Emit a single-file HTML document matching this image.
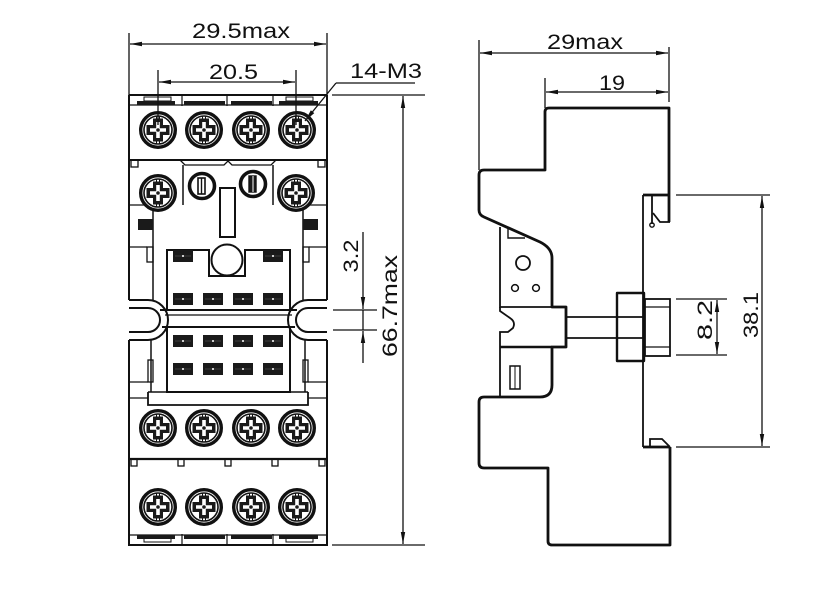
<!DOCTYPE html>
<html><head><meta charset="utf-8"><style>
html,body{margin:0;padding:0;background:#fff;}
svg{display:block;}
text{font-family:"Liberation Sans",Arial,sans-serif;font-size:21px;fill:#111;}
</style></head><body>
<svg width="838" height="589" viewBox="0 0 838 589" xmlns="http://www.w3.org/2000/svg">
<defs>
<marker id="ar" viewBox="0 0 12 6" refX="12" refY="3" markerWidth="12" markerHeight="6" orient="auto-start-reverse" markerUnits="userSpaceOnUse"><path d="M0,0.8 L12,3 L0,5.2 z" fill="#111"/></marker>
<g id="s">
<circle r="17.3" fill="#fff" stroke="#111" stroke-width="3.4"/>
<circle r="14" fill="none" stroke="#111" stroke-width="1.6"/>
<path d="M-5,-11.5 H5 V-5 H11.5 V5 H5 V11.5 H-5 V5 H-11.5 V-5 H-5 Z" fill="#1a1a1a"/>
<path d="M-1.8,-8 H1.8 V-1.8 H8 V1.8 H1.8 V8 H-1.8 V1.8 H-8 V-1.8 H-1.8 Z" fill="#fff"/>
<circle r="1.8" fill="#1a1a1a"/>
<line x1="-1.5" y1="-14" x2="-1.5" y2="-11" stroke="#111" stroke-width="1"/>
<line x1="1.5" y1="-14" x2="1.5" y2="-11" stroke="#111" stroke-width="1"/>
<line x1="-1.5" y1="14" x2="-1.5" y2="11" stroke="#111" stroke-width="1"/>
<line x1="1.5" y1="14" x2="1.5" y2="11" stroke="#111" stroke-width="1"/>
</g>
<g id="p"><rect width="20" height="12" fill="#1a1a1a"/><rect x="9" y="5" width="2" height="2" fill="#fff"/><line x1="2" y1="6" x2="18" y2="6" stroke="#555" stroke-width="0.6"/></g>
</defs>

<!-- ============ FRONT VIEW ============ -->
<g fill="none" stroke="#111" stroke-width="2">
<line x1="129" y1="95" x2="129" y2="300"/>
<line x1="129" y1="340" x2="129" y2="546"/>
<line x1="327" y1="95" x2="327" y2="300"/>
<line x1="327" y1="340" x2="327" y2="546"/>
<line x1="129" y1="95" x2="327" y2="95"/>
<line x1="129" y1="545" x2="327" y2="545"/>
<line x1="129" y1="105" x2="327" y2="105" stroke-width="1.2"/>
<line x1="182" y1="95" x2="182" y2="106" stroke-width="1.2"/>
<line x1="227" y1="95" x2="227" y2="106" stroke-width="1.2"/>
<line x1="273" y1="95" x2="273" y2="106" stroke-width="1.2"/>
<rect x="144" y="97" width="27" height="4" stroke-width="1"/>
<rect x="286" y="97" width="27" height="4" stroke-width="1"/>
<line x1="129" y1="535" x2="327" y2="535" stroke-width="1.2"/>
<line x1="182" y1="534" x2="182" y2="545" stroke-width="1.2"/>
<line x1="227" y1="534" x2="227" y2="545" stroke-width="1.2"/>
<line x1="273" y1="534" x2="273" y2="545" stroke-width="1.2"/>
<rect x="144" y="538" width="27" height="4" stroke-width="1"/>
<rect x="286" y="538" width="27" height="4" stroke-width="1"/>
</g>
<g fill="#1a1a1a">
<rect x="137" y="101" width="38" height="4"/><rect x="184" y="101" width="41" height="4"/>
<rect x="231" y="101" width="41" height="4"/><rect x="279" y="101" width="39" height="4"/>
<rect x="137" y="535" width="38" height="4"/><rect x="184" y="535" width="41" height="4"/>
<rect x="231" y="535" width="41" height="4"/><rect x="279" y="535" width="39" height="4"/>
</g>

<g fill="none" stroke="#111" stroke-width="2">
<line x1="129" y1="160" x2="327" y2="160"/>
<rect x="131" y="160" width="7" height="7" stroke-width="1.3"/>
<rect x="318" y="160" width="7" height="7" stroke-width="1.3"/>
<path d="M180,160 L185,165 H224 L228,161 L232,165 H271 L276,160" stroke-width="1.3"/>
<line x1="183" y1="165" x2="183" y2="205" stroke-width="1.5"/>
<line x1="273" y1="165" x2="273" y2="205" stroke-width="1.5"/>
<rect x="220" y="188" width="15" height="49" stroke-width="2"/>
<line x1="129" y1="205" x2="153" y2="205" stroke-width="1.3"/>
<line x1="153" y1="205" x2="153" y2="300" stroke-width="1.5"/>
<line x1="129" y1="247" x2="147" y2="247" stroke-width="1.3"/>
<rect x="147" y="247" width="6" height="15" stroke-width="1.3"/>
<line x1="303" y1="205" x2="327" y2="205" stroke-width="1.3"/>
<line x1="303" y1="205" x2="303" y2="300" stroke-width="1.5"/>
<line x1="309" y1="247" x2="327" y2="247" stroke-width="1.3"/>
<rect x="303" y="247" width="6" height="15" stroke-width="1.3"/>
<path d="M167,310 V250 H209 V276 H245 V250 H290 V310"/>
<circle cx="227" cy="260" r="15.5"/>
<line x1="160" y1="310" x2="297" y2="310"/>
<line x1="165" y1="315" x2="292" y2="315" stroke-width="1.2"/>
<line x1="162" y1="327" x2="295" y2="327"/>
<path d="M129,300 H148 A20,20 0 0 1 148,340 H129"/>
<path d="M129,308 H148 A12,12 0 0 1 148,332 H129"/>
<path d="M327,300 H308 A20,20 0 0 0 308,340 H327"/>
<path d="M327,308 H308 A12,12 0 0 0 308,332 H327"/>
<path d="M167,327 V392 H290 V327"/>
<line x1="151" y1="340" x2="151" y2="392" stroke-width="1.5"/>
<line x1="305" y1="340" x2="305" y2="392" stroke-width="1.5"/>
<rect x="148" y="360" width="5" height="22" stroke-width="1.3"/>
<rect x="303" y="360" width="5" height="22" stroke-width="1.3"/>
<line x1="129" y1="382" x2="148" y2="382" stroke-width="1.3"/>
<line x1="308" y1="382" x2="327" y2="382" stroke-width="1.3"/>
<path d="M148,392 V405 H308 V392" stroke-width="1.8"/>
<line x1="148" y1="392" x2="308" y2="392" stroke-width="1.5"/>
<line x1="129" y1="398" x2="148" y2="398" stroke-width="1.3"/>
<line x1="308" y1="398" x2="327" y2="398" stroke-width="1.3"/>
<line x1="129" y1="459" x2="327" y2="459" stroke-width="2.2"/>
<rect x="131" y="459" width="6" height="7" stroke-width="1.3"/>
<rect x="178" y="459" width="6" height="7" stroke-width="1.3"/>
<rect x="225" y="459" width="6" height="7" stroke-width="1.3"/>
<rect x="272" y="459" width="6" height="7" stroke-width="1.3"/>
<rect x="319" y="459" width="6" height="7" stroke-width="1.3"/>
</g>

<use href="#p" x="173" y="250"/><use href="#p" x="263" y="250"/>
<use href="#p" x="173" y="293"/><use href="#p" x="203" y="293"/><use href="#p" x="233" y="293"/><use href="#p" x="263" y="293"/>
<use href="#p" x="173" y="335"/><use href="#p" x="203" y="335"/><use href="#p" x="233" y="335"/><use href="#p" x="263" y="335"/>
<use href="#p" x="173" y="363"/><use href="#p" x="203" y="363"/><use href="#p" x="233" y="363"/><use href="#p" x="263" y="363"/>

<rect x="138" y="219" width="15" height="11" fill="#1a1a1a"/>
<rect x="303" y="219" width="15" height="11" fill="#1a1a1a"/>

<use href="#s" x="158" y="130"/><use href="#s" x="204" y="130"/><use href="#s" x="251" y="130"/><use href="#s" x="297" y="130"/>
<use href="#s" x="158" y="193"/><use href="#s" x="296" y="193"/>
<use href="#s" x="158" y="428"/><use href="#s" x="204" y="428"/><use href="#s" x="251" y="428"/><use href="#s" x="297" y="428"/>
<use href="#s" x="158" y="507"/><use href="#s" x="204" y="507"/><use href="#s" x="251" y="507"/><use href="#s" x="297" y="507"/>

<g stroke="#111" fill="#fff">
<circle cx="202" cy="186" r="12.5" stroke-width="3.6"/>
<rect x="198" y="178" width="7" height="16" stroke-width="1.6"/>
<line x1="201.5" y1="178" x2="201.5" y2="194" stroke-width="1.4"/>
<circle cx="253" cy="184" r="12.5" stroke-width="3.6"/>
<rect x="249" y="176" width="7" height="16" stroke-width="1.4" fill="#1a1a1a"/>
<line x1="253" y1="176" x2="253" y2="192" stroke="#fff" stroke-width="1"/>
</g>

<g fill="none" stroke="#111" stroke-width="1.3">
<line x1="129" y1="33" x2="129" y2="95"/>
<line x1="327" y1="33" x2="327" y2="95"/>
<line x1="130" y1="44" x2="326" y2="44" marker-start="url(#ar)" marker-end="url(#ar)"/>
<line x1="158" y1="70" x2="158" y2="125"/>
<line x1="296" y1="70" x2="296" y2="125"/>
<line x1="159" y1="82" x2="295" y2="82" marker-start="url(#ar)" marker-end="url(#ar)"/>
<line x1="336" y1="83" x2="415" y2="83"/>
<line x1="336" y1="83" x2="305" y2="121" marker-end="url(#ar)"/>
<line x1="332" y1="95" x2="425" y2="95"/>
<line x1="332" y1="545" x2="425" y2="545"/>
<line x1="403" y1="96" x2="403" y2="544" marker-start="url(#ar)" marker-end="url(#ar)"/>
<line x1="333" y1="310" x2="377" y2="310"/>
<line x1="333" y1="330" x2="377" y2="330"/>
<line x1="363" y1="232" x2="363" y2="309" marker-end="url(#ar)"/>
<line x1="363" y1="310" x2="363" y2="330"/>
<line x1="363" y1="363" x2="363" y2="331" marker-end="url(#ar)"/>
</g>
<text x="192" y="38" textLength="98" lengthAdjust="spacingAndGlyphs">29.5max</text>
<text x="209" y="79" textLength="49" lengthAdjust="spacingAndGlyphs">20.5</text>
<text x="350" y="78" textLength="72" lengthAdjust="spacingAndGlyphs">14-M3</text>
<text transform="translate(397,306) rotate(-90)" text-anchor="middle" textLength="102" lengthAdjust="spacingAndGlyphs">66.7max</text>
<text transform="translate(358,256) rotate(-90)" text-anchor="middle" textLength="33" lengthAdjust="spacingAndGlyphs">3.2</text>

<!-- ============ SIDE VIEW ============ -->
<g fill="none" stroke="#111" stroke-width="2.8" stroke-linejoin="round">
<path d="M669,222 V108 H549 Q545,108 545,112 V170 H484 Q479,170 479,175 V210 Q479,215 484,217 L540,242 Q552,248 552,258 V307 H566 V347 H552 V385 Q552,397 540,397 H484 Q479,397 479,402 V463 Q479,468 484,468 H548 V541 Q548,545 552,545 H670 V447"/>
<line x1="643" y1="195" x2="670" y2="195"/>
<line x1="643" y1="447" x2="670" y2="447"/>
<rect x="617" y="293" width="27" height="68" stroke-width="2.4"/>
</g>
<g fill="none" stroke="#111" stroke-width="1.8">
<line x1="643" y1="195" x2="643" y2="447"/>
<line x1="652" y1="195" x2="652" y2="224"/>
<circle cx="652" cy="225" r="2.2" stroke-width="1.4"/>
<path d="M653,213 L660,222 H670"/>
<path d="M650,447 V439 H662 L670,447"/>
<path d="M500,227 V307 H552"/>
<path d="M500,307 V311 L510,318 Q516,322 513,328 L508,332 H500 V397"/>
<line x1="500" y1="347" x2="552" y2="347" stroke-width="2.4"/>
<path d="M508,227 V238 H525" stroke-width="1.4"/>
<circle cx="523" cy="263" r="7"/>
<circle cx="515" cy="288" r="3.4" stroke-width="1.5"/>
<circle cx="536" cy="288" r="3.4" stroke-width="1.5"/>
<rect x="510" y="366" width="10" height="23" stroke-width="1.5"/>
<line x1="515" y1="366" x2="515" y2="389" stroke-width="1"/>
<line x1="566" y1="317" x2="644" y2="317"/>
<line x1="566" y1="338" x2="644" y2="338"/>
<rect x="645" y="299" width="25" height="57"/>
<line x1="645" y1="307" x2="670" y2="307" stroke-width="1.3"/>
<line x1="645" y1="347" x2="670" y2="347" stroke-width="1.3"/>
</g>

<g fill="none" stroke="#111" stroke-width="1.3">
<line x1="479" y1="40" x2="479" y2="170"/>
<line x1="669" y1="47" x2="669" y2="102"/>
<line x1="480" y1="53" x2="668" y2="53" marker-start="url(#ar)" marker-end="url(#ar)"/>
<line x1="545" y1="78" x2="545" y2="108"/>
<line x1="546" y1="92" x2="668" y2="92" marker-start="url(#ar)" marker-end="url(#ar)"/>
<line x1="676" y1="195" x2="770" y2="195"/>
<line x1="676" y1="447" x2="770" y2="447"/>
<line x1="762" y1="196" x2="762" y2="446" marker-start="url(#ar)" marker-end="url(#ar)"/>
<line x1="676" y1="299" x2="727" y2="299"/>
<line x1="676" y1="355" x2="727" y2="355"/>
<line x1="717" y1="300" x2="717" y2="354" marker-start="url(#ar)" marker-end="url(#ar)"/>
</g>
<text x="547" y="49" textLength="76" lengthAdjust="spacingAndGlyphs">29max</text>
<text x="599" y="90" textLength="26" lengthAdjust="spacingAndGlyphs">19</text>
<text transform="translate(758,315) rotate(-90)" text-anchor="middle" textLength="46" lengthAdjust="spacingAndGlyphs">38.1</text>
<text transform="translate(712,320) rotate(-90)" text-anchor="middle" textLength="40" lengthAdjust="spacingAndGlyphs">8.2</text>
</svg>
</body></html>
